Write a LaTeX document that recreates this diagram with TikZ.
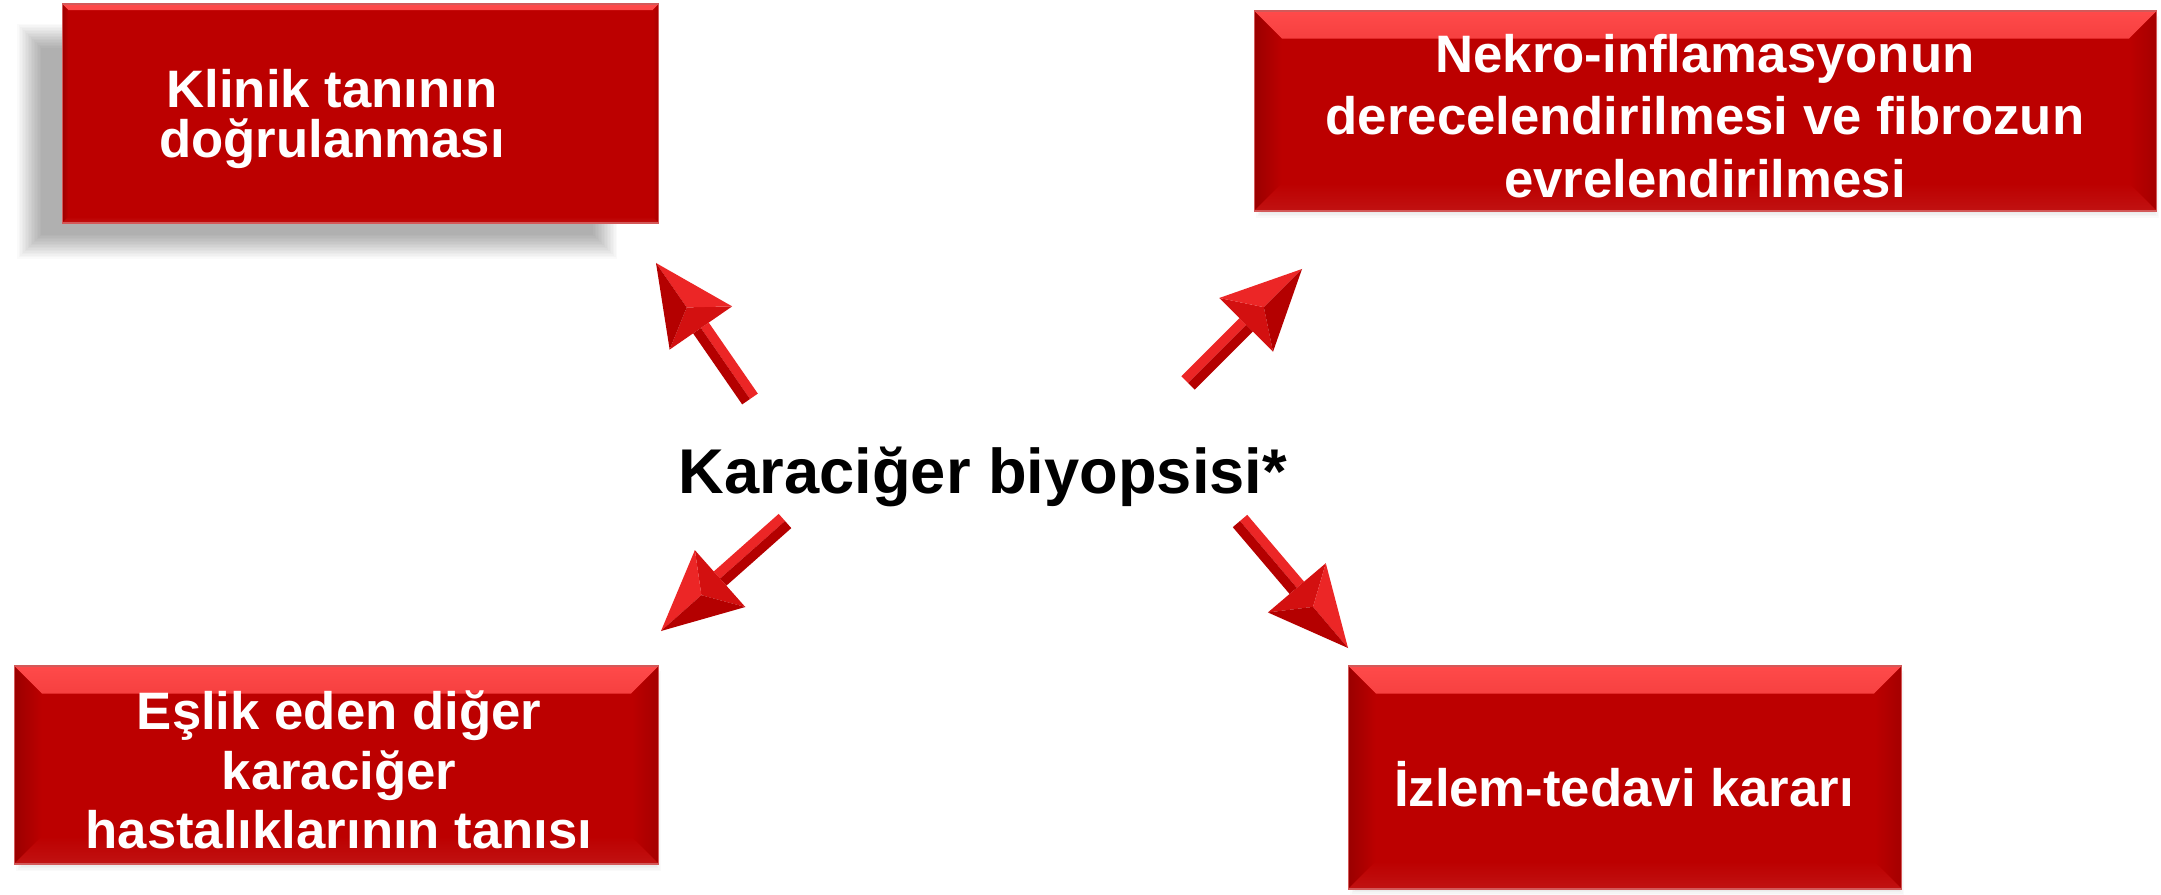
\documentclass[tikz,border=0pt]{standalone}
\usepackage{fontspec}
\setmainfont{Liberation Sans}
\usetikzlibrary{calc}

\definecolor{boxred}{HTML}{BC0000}
\definecolor{bevellight}{HTML}{FF4A4A}
\definecolor{beveldark}{HTML}{9A0000}
\definecolor{arrowlight}{HTML}{EC2626}
\definecolor{arrowmid}{HTML}{D31010}
\definecolor{arrowdark}{HTML}{B40000}

% soft shadow: x1 y1 x2 y2 (pixels), number of layers
\newcommand\softshadow[5]{%
  \foreach \s in {0,...,#5}
    \fill[black, opacity=0.02] (#1+1.5*\s,#2+1.5*\s) rectangle (#3-1.5*\s,#4-1.5*\s);
}

% 3D arrow: tail, tip, lit side angle, dark side angle
\newcommand\redarrow[4]{%
  \coordinate (ab) at ($(#2)!1.58cm!(#1)$);
  \coordinate (ap) at ($(#2)!1.08cm!(#1)$);
  \fill[arrowlight] (#1) -- ($(#1)!0.19cm!#3:(#2)$) -- ($(ab)!0.19cm!#3:(#2)$) -- (ab) -- cycle;
  \fill[arrowdark] (#1) -- ($(#1)!0.19cm!#4:(#2)$) -- ($(ab)!0.19cm!#4:(#2)$) -- (ab) -- cycle;
  \fill[arrowmid] (ap) -- ($(ab)!0.76cm!#3:(#2)$) -- ($(ab)!0.76cm!#4:(#2)$) -- cycle;
  \fill[arrowlight] (#2) -- ($(ab)!0.76cm!#3:(#2)$) -- (ap) -- cycle;
  \fill[arrowdark] (#2) -- ($(ab)!0.76cm!#4:(#2)$) -- (ap) -- cycle;
}

\begin{document}
\begin{tikzpicture}[
  x=0.02cm, y=-0.02cm,
  % bevelled red box, #1 = bevel size
  box/.style={rectangle, fill=boxred, draw=boxred!65!white, line width=0.6pt, inner sep=0pt,
    path picture={
      \shade[top color=bevellight, bottom color=boxred]
        (path picture bounding box.north west) -- (path picture bounding box.north east)
        -- ([shift={(-#1,-#1)}]path picture bounding box.north east)
        -- ([shift={(#1,-#1)}]path picture bounding box.north west) -- cycle;
      \shade[left color=beveldark, right color=boxred]
        (path picture bounding box.north west) -- ([shift={(#1,-#1)}]path picture bounding box.north west)
        -- ([shift={(#1,#1)}]path picture bounding box.south west)
        -- (path picture bounding box.south west) -- cycle;
      \shade[right color=beveldark!70!boxred, left color=boxred]
        (path picture bounding box.north east) -- ([shift={(-#1,-#1)}]path picture bounding box.north east)
        -- ([shift={(-#1,#1)}]path picture bounding box.south east)
        -- (path picture bounding box.south east) -- cycle;
      \shade[bottom color=boxred!93!white, top color=boxred]
        (path picture bounding box.south west) -- (path picture bounding box.south east)
        -- ([shift={(-#1,#1)}]path picture bounding box.south east)
        -- ([shift={(#1,#1)}]path picture bounding box.south west) -- cycle;
    }},
  box/.default=0.55cm,
  boxtext/.style={text=white, align=center, inner sep=0pt},
  font=\bfseries
]
  \fill[white] (0,0) rectangle (2161,895);
  \useasboundingbox (0,0) rectangle (2161,895);

  % shadows
  \softshadow{17}{24}{617}{259}{16}
  \softshadow{1256}{16}{2159}{218}{4}
  \softshadow{16}{671}{661}{871}{4}
  \softshadow{1350}{671}{1904}{895}{4}

  % boxes
  \node[box=0.12cm, minimum width=11.94cm, minimum height=4.38cm] (klinik) at (360.5,113.5) {};
  \node[box, minimum width=18.06cm, minimum height=4.0cm] (nekro) at (1705.5,111) {};
  \node[box, minimum width=12.9cm, minimum height=3.96cm] (eslik) at (336.5,765) {};
  \node[box, minimum width=11.08cm, minimum height=4.46cm] (izlem) at (1625,777.5) {};

  % box texts
  \node[boxtext, font=\bfseries\fontsize{30}{29}\selectfont] (klinik-t) at (332,119) {Klinik tanının\\doğrulanması};
  \node[boxtext, font=\bfseries\fontsize{30}{35.5}\selectfont] (nekro-t) at (1705,116) {Nekro-inflamasyonun\\derecelendirilmesi ve fibrozun\\evrelendirilmesi};
  \node[boxtext, font=\bfseries\fontsize{30}{34}\selectfont] (eslik-t) at (339,770) {Eşlik eden diğer\\karaciğer\\hastalıklarının tanısı};
  \node[boxtext, font=\bfseries\fontsize{30}{34}\selectfont, anchor=base] (izlem-t) at (1624,806) {İzlem-tedavi kararı};

  % centre
  \node[font=\bfseries\fontsize{36}{43}\selectfont, anchor=base, inner sep=0pt] (biyopsi) at (983,493) {Karaciğer biyopsisi*};

  % arrows
  \coordinate (kt-tail) at (750,399);  \coordinate (kt-tip) at (656,263);
  \coordinate (nk-tail) at (1188,383); \coordinate (nk-tip) at (1302,269);
  \coordinate (es-tail) at (785,521);  \coordinate (es-tip) at (661,631);
  \coordinate (iz-tail) at (1240,521); \coordinate (iz-tip) at (1348,648);
  \redarrow{kt-tail}{kt-tip}{-90}{90}
  \redarrow{nk-tail}{nk-tip}{90}{-90}
  \redarrow{es-tail}{es-tip}{-90}{90}
  \redarrow{iz-tail}{iz-tip}{90}{-90}
\end{tikzpicture}
\end{document}
